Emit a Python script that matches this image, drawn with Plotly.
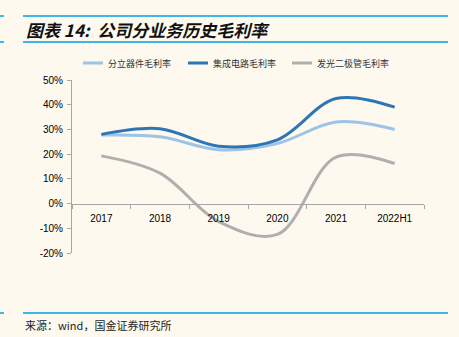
import plotly.graph_objects as go

# Gross margin by business line (%)
years = ["2017", "2018", "2019", "2020", "2021", "2022H1"]
discrete_margin = [27.7, 27.0, 21.8, 24.3, 33.0, 30.0]
ic_margin = [28.0, 30.3, 23.2, 25.8, 42.5, 39.0]
led_margin = [19.3, 12.3, -7.3, -12.5, 18.8, 16.2]

series_names = ["分立器件毛利率", "集成电路毛利率", "发光二极管毛利率"]
series_colors = ["#9DC3E6", "#2E75B6", "#AFAFAF"]
y_ticks = [-20, -10, 0, 10, 20, 30, 40, 50]
y_tick_text = [f"{v}%" for v in y_ticks]

W, H = 459, 337
L, R, T, B = 72, 35, 80, 84
PW, PH = W - L - R, H - T - B


def px(x):
    return (x - L) / PW


def py(y):
    return (H - B - y) / PH


BG = "#FDF9EF"
RULE = "#00A0E9"
CJK = "Noto Sans CJK SC"
LATIN = "Arial, Liberation Sans"

fig = go.Figure()
for name, vals, col in zip(series_names, [discrete_margin, ic_margin, led_margin], series_colors):
    fig.add_trace(go.Scatter(
        x=years, y=vals, name=name, mode="lines",
        line=dict(color=col, width=3, shape="spline", smoothing=1.0),
        hoverinfo="skip", showlegend=False,
    ))

fig.update_layout(
    width=W, height=H,
    margin=dict(l=L, r=R, t=T, b=B, pad=0),
    paper_bgcolor=BG, plot_bgcolor=BG,
    showlegend=False,
    xaxis=dict(
        type="category", range=[-0.5, 5.5],
        anchor="free", position=20 / 70,
        showline=True, linecolor="#A6A6A6", linewidth=1,
        ticks="outside", ticklen=4, tickcolor="#A6A6A6", tickson="boundaries",
        showgrid=False, zeroline=False,
        tickfont=dict(family=LATIN, size=10, color="#000000"),
        ticklabelstandoff=5,
    ),
    yaxis=dict(
        range=[-20, 50], tickvals=y_ticks, ticktext=y_tick_text,
        showline=True, linecolor="#A6A6A6", linewidth=1,
        ticks="outside", ticklen=4, tickcolor="#A6A6A6",
        showgrid=False, zeroline=False,
        tickfont=dict(family=LATIN, size=10, color="#000000"),
        ticklabelstandoff=2,
    ),
)

# Legend: sample line followed by the series name
legend_x = [83, 188, 292]
legend_y = 63
for name, col, lx in zip(series_names, series_colors, legend_x):
    fig.add_shape(type="line", xref="paper", yref="paper",
                  x0=px(lx), x1=px(lx + 20), y0=py(legend_y), y1=py(legend_y),
                  line=dict(color=col, width=3))
    fig.add_annotation(
        text=name, xref="paper", yref="paper", x=px(lx + 23), y=py(legend_y),
        xanchor="left", yanchor="middle", showarrow=False,
        font=dict(family=CJK, size=9, color="#333333"),
    )

# Header / footer rules
rules = [(23, 448, 16), (0, 4, 16), (23, 448, 42), (0, 4, 42), (23, 448, 313), (0, 4, 313)]
for x0, x1, y in rules:
    fig.add_shape(type="line", xref="paper", yref="paper",
                  x0=px(x0), x1=px(x1), y0=py(y), y1=py(y),
                  line=dict(color=RULE, width=1.5))

fig.add_annotation(
    text="<b><i>图表 14:  公司分业务历史毛利率</i></b>",
    xref="paper", yref="paper", x=px(24), y=py(29),
    xanchor="left", yanchor="middle", showarrow=False,
    font=dict(family=CJK, size=17, color="#111111"),
)
fig.add_annotation(
    text="来源：wind，国金证券研究所",
    xref="paper", yref="paper", x=px(23), y=py(325),
    xanchor="left", yanchor="middle", showarrow=False,
    font=dict(family=CJK, size=11, color="#222222"),
)

fig.write_html("out.html")
